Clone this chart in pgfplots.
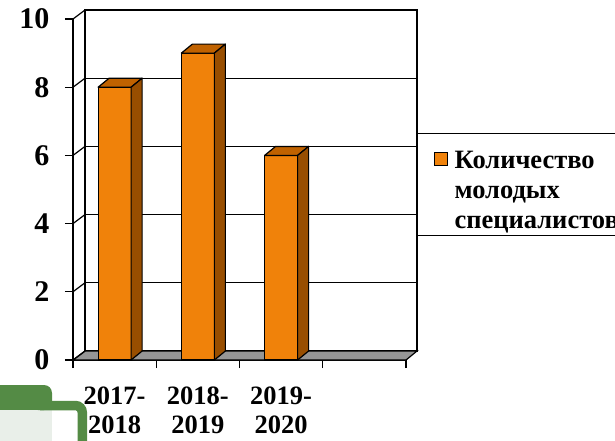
\documentclass[border=0pt]{standalone}
\usepackage{fontspec}
\setmainfont{Liberation Serif}
\newfontfamily\lserif{Liberation Serif}
\usepackage{pgfplots}
\usepackage{pgfplotstable}
\pgfplotsset{compat=1.18}

\definecolor{barfront}{RGB}{240,130,10}
\definecolor{bartop}{RGB}{192,98,0}
\definecolor{barside}{RGB}{152,78,0}
\definecolor{floorgray}{RGB}{150,150,150}
\definecolor{slidegreen}{RGB}{84,139,69}
\definecolor{slidepale}{RGB}{233,239,233}

\pgfplotstableread{
x   y
0.5 8
1.5 9
2.5 6
}\specdata

% top and side faces of a bar, drawn at the bar's top-centre; \hh = height in pt
\pgfdeclareplotmark{prism}{%
  \pgfpathmoveto{\pgfpoint{-16.5pt}{0pt}}%
  \pgfpathlineto{\pgfpoint{-5.5pt}{9pt}}%
  \pgfpathlineto{\pgfpoint{27.5pt}{9pt}}%
  \pgfpathlineto{\pgfpoint{16.5pt}{0pt}}%
  \pgfpathclose
  \pgfsetfillcolor{bartop}%
  \pgfusepath{fill,stroke}%
  \pgfpathmoveto{\pgfpoint{16.5pt}{0pt}}%
  \pgfpathlineto{\pgfpoint{27.5pt}{9pt}}%
  \pgfpathlineto{\pgfpoint{27.5pt}{9pt-\hh pt}}%
  \pgfpathlineto{\pgfpoint{16.5pt}{-\hh pt}}%
  \pgfpathclose
  \pgfsetfillcolor{barside}%
  \pgfusepath{fill,stroke}%
}

\newcommand\lblfont{\lserif\fontsize{26.5}{29}\selectfont\bfseries}
\newcommand\yfont{\lserif\fontsize{30}{30}\selectfont\bfseries}

\begin{document}
\begin{tikzpicture}
\useasboundingbox (0,0) rectangle (615pt,440pt);

% slide decoration, bottom left
\fill[slidepale] (0pt,-5pt) rectangle (52pt,30pt);
\draw[slidegreen, line width=9.5pt, rounded corners=7pt] (40pt,34.5pt) -- (82.3pt,34.5pt) -- (82.3pt,-10pt);
\fill[slidegreen] (0pt,30pt) rectangle (44pt,55pt);
\fill[slidegreen, rounded corners=8pt] (30pt,30pt) rectangle (52pt,55pt);
\fill[slidegreen] (30pt,30pt) rectangle (52pt,42pt);

% back wall with grid
\begin{axis}[
  at={(85pt,89pt)}, anchor=south west,
  width=332pt, height=341pt, scale only axis,
  xmin=0, xmax=4, ymin=0, ymax=10,
  xtick=\empty, ytick={2,4,6,8}, yticklabel=\empty,
  major tick length=0pt,
  ymajorgrids,
  grid style={black, line width=1.2pt},
  axis line style={black, line width=1.2pt},
]
\end{axis}

\begin{axis}[
  at={(73pt,80pt)}, anchor=south west,
  width=333pt, height=341pt, scale only axis,
  xmin=0, xmax=4, ymin=0, ymax=10,
  clip=false,
  axis x line*=bottom, axis y line*=left,
  axis line style={black, line width=1.2pt, -},
  xtick={0,1,2,3,4},
  x tick label as interval,
  xticklabels={{2017-\\2018},{2018-\\2019},{2019-\\2020},{}},
  xticklabel style={align=center, font=\lblfont},
  xticklabel shift=15pt,
  ytick={0,2,...,10},
  yticklabel=\empty,
  tick align=outside,
  major tick length=8pt,
  tick style={black, line width=1.2pt},
  legend style={at={(1.033,0.6657)}, anchor=north west,
    draw=black, line width=1.2pt, font=\lblfont,
    inner xsep=16pt, inner ysep=3pt, column sep=5pt,
    cells={align=left}},
  legend cell align=left,
  legend image code/.code={\draw[fill=barfront, draw=black, line width=1pt] (0pt,19pt) rectangle (13pt,32pt);},
]
% floor
\filldraw[fill=floorgray, draw=black, line width=1.2pt]
  (axis cs:0,0) -- (axis cs:4,0) -- ++(11pt,9pt) -- ([shift={(12pt,9pt)}]axis cs:0,0) -- cycle;
% left wall and the value labels of the y ticks
\pgfplotsinvokeforeach{0,2,4,6,8,10}{
  \draw[line width=1.2pt] (axis cs:0,#1) -- ++(12pt,9pt);
  \node[anchor=east, inner sep=0pt, font=\yfont] at ([xshift=-23.5pt]axis cs:0,#1) {#1};
}

\addplot[ybar, bar width=33pt, fill=barfront, draw=black, line width=1.2pt] table {\specdata};
\addlegendentry{\rule{0pt}{30pt}Количество\\[1pt]молодых\\[1pt]специалистов}

\addplot[only marks, mark=prism, forget plot,
  visualization depends on={\thisrow{y}*34.1 \as \hh},
  mark options={draw=black, line width=1.2pt, line join=round}] table {\specdata};
\end{axis}
\end{tikzpicture}
\end{document}
